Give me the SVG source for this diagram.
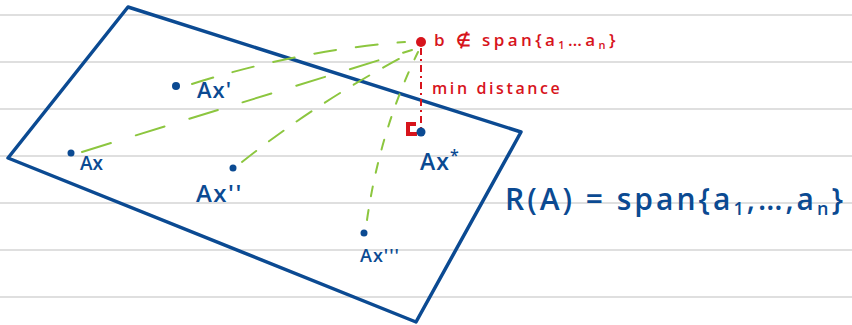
<svg xmlns="http://www.w3.org/2000/svg" width="852" height="325" viewBox="0 0 852 325">
<style>
.rule{stroke:#d4d4d4;stroke-width:1.5}
.blue{fill:#0b4a92}
.red{fill:#d7141c}
.lbl{font-family:"Open Sans","Liberation Sans",sans-serif;font-weight:600;fill:#0b4a92}
.rlbl{font-family:"Open Sans","Liberation Sans",sans-serif;font-weight:600;fill:#d7141c}
.g{fill:none;stroke:#8cc63f;stroke-width:2;stroke-linecap:round}
</style>
<rect width="852" height="325" fill="#ffffff"/>
<g id="rules">
<line class="rule" x1="0" y1="15" x2="852" y2="15"/>
<line class="rule" x1="0" y1="62" x2="852" y2="62"/>
<line class="rule" x1="0" y1="109" x2="852" y2="109"/>
<line class="rule" x1="0" y1="156" x2="852" y2="156"/>
<line class="rule" x1="0" y1="203" x2="852" y2="203"/>
<line class="rule" x1="0" y1="250" x2="852" y2="250"/>
<line class="rule" x1="0" y1="297" x2="852" y2="297"/>
</g>
<g id="plane">
<polygon points="128,7 521,132 416,322 8,158" fill="none" stroke="#0b4a92" stroke-width="3.5" stroke-linejoin="round"/>
</g>
<g id="connectors">
<path class="g" d="M82,152 Q250,100 412,50" stroke-dasharray="30,26"/>
<path class="g" d="M192,84 Q300,50 405,42" stroke-dasharray="22,20"/>
<path class="g" d="M242,162 Q320,100 412,52" stroke-dasharray="18,16"/>
<path class="g" d="M367,220 Q380,130 418,52" stroke-width="1.6" stroke-dasharray="10,14"/>
<path d="M421,48 L421,130" fill="none" stroke="#d7141c" stroke-width="2" stroke-dasharray="7,4,2,4"/>
<path d="M416,124 L408,124 L408,134 L417,134" fill="none" stroke="#d7141c" stroke-width="4"/>
</g>
<g id="node-b">
<circle class="red" cx="421" cy="42" r="5"/>
<text class="rlbl" x="434" y="46" font-size="17" letter-spacing="3.4">b ∉ span{a<tspan font-size="11" dy="3">1</tspan><tspan dy="-3">…a</tspan><tspan font-size="11" dy="3">n</tspan><tspan dy="-3">}</tspan></text>
<text class="rlbl" x="432" y="94" font-size="16" letter-spacing="2.6">min distance</text>
</g>
<g id="node-ax">
<circle class="blue" cx="71" cy="153" r="3.5"/>
<text class="lbl" x="80" y="170" font-size="19">Ax</text>
</g>
<g id="node-ax1">
<circle class="blue" cx="176" cy="86" r="4"/>
<text class="lbl" x="197" y="98" font-size="22" letter-spacing="1">Ax'</text>
</g>
<g id="node-ax2">
<circle class="blue" cx="233" cy="168" r="3.5"/>
<text class="lbl" x="196" y="202" font-size="24" letter-spacing="1.5">Ax''</text>
</g>
<g id="node-ax3">
<circle class="blue" cx="364" cy="233" r="3.5"/>
<text class="lbl" x="360" y="262" font-size="18" letter-spacing="1">Ax'''</text>
</g>
<g id="node-axstar">
<circle class="blue" cx="421" cy="132" r="4.5"/>
<text class="lbl" x="420" y="170" font-size="23" letter-spacing="1">Ax<tspan font-size="16" dy="-9">*</tspan></text>
</g>
<g id="range-label">
<text class="lbl" x="505" y="210" font-size="30" letter-spacing="3">R(A) = span{a<tspan font-size="18" dy="5">1</tspan><tspan dy="-5">,…,a</tspan><tspan font-size="18" dy="5">n</tspan><tspan dy="-5">}</tspan></text>
</g>
</svg>
